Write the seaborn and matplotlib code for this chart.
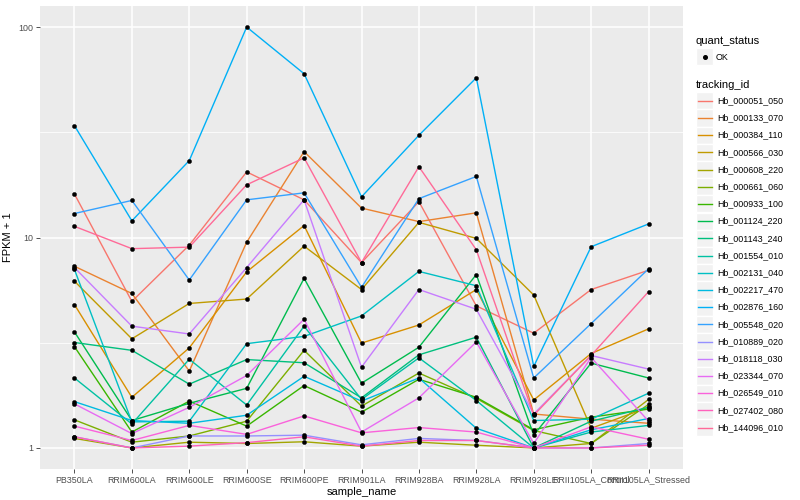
import math
import numpy as np
import pandas as pd
import matplotlib
matplotlib.use("Agg")
import matplotlib.pyplot as plt
from matplotlib.lines import Line2D
from matplotlib.patches import Rectangle
import seaborn as sns

samples = ["PB350LA", "RRIM600LA", "RRIM600LE", "RRIM600SE", "RRIM600PE", "RRIM901LA",
           "RRIM928BA", "RRIM928LA", "RRIM928LE", "RRII105LA_Control", "RRII105LA_Stressed"]

tracking_ids = ["Hb_000051_050", "Hb_000133_070", "Hb_000384_110", "Hb_000566_030",
                "Hb_000608_220", "Hb_000661_060", "Hb_000933_100", "Hb_001124_220",
                "Hb_001143_240", "Hb_001554_010", "Hb_002131_040", "Hb_002217_470",
                "Hb_002876_160", "Hb_005548_020", "Hb_010889_020", "Hb_018118_030",
                "Hb_023344_070", "Hb_026549_010", "Hb_027402_080", "Hb_144096_010"]

# FPKM + 1 values per gene, in sample order
hb_000051_050 = [16.1, 4.97, 9.2, 20.5, 15.1, 7.6, 14.8, 4.73, 3.51, 5.66, 6.99]
hb_000133_070 = [7.3, 5.42, 2.32, 9.5, 25.6, 13.8, 11.9, 13.1, 1.45, 1.37, 1.31]
hb_000384_110 = [4.8, 1.74, 2.99, 6.87, 11.4, 3.15, 3.84, 5.66, 1.69, 2.81, 3.68]
hb_000566_030 = [6.2, 3.3, 4.86, 5.1, 9.1, 5.66, 11.8, 9.9, 5.33, 1.24, 1.56]
hb_000608_220 = [1.11, 1.0, 1.065, 1.05, 1.07, 1.02, 1.065, 1.03, 1.0, 1.05, 1.70]
hb_000661_060 = [1.36, 1.065, 1.14, 1.34, 2.91, 1.58, 2.27, 1.72, 1.21, 1.05, 1.61]
hb_000933_100 = [3.03, 1.19, 1.67, 1.27, 1.98, 1.48, 2.12, 1.74, 1.22, 1.40, 1.53]
hb_001124_220 = [3.56, 1.35, 1.63, 1.92, 6.4, 2.03, 3.01, 6.67, 1.15, 2.53, 2.15]
hb_001143_240 = [3.17, 2.91, 2.01, 2.63, 2.54, 1.73, 2.77, 3.36, 1.0, 1.34, 1.56]
hb_001554_010 = [2.15, 1.30, 2.64, 1.6, 3.79, 1.70, 2.68, 1.68, 1.0, 1.19, 1.28]
hb_002131_040 = [7.05, 1.33, 1.34, 3.13, 3.39, 4.24, 6.9, 5.9, 1.35, 1.37, 1.82]
hb_002217_470 = [1.66, 1.35, 1.31, 1.43, 2.19, 1.67, 2.15, 1.24, 1.0, 1.22, 1.38]
hb_002876_160 = [34.0, 12.0, 23.2, 100.0, 60.0, 15.6, 30.6, 57.4, 2.44, 9.04, 11.6]
hb_005548_020 = [13.0, 15.0, 6.28, 15.1, 16.3, 5.8, 15.3, 19.5, 2.15, 3.9, 7.1]
hb_010889_020 = [1.13, 1.0, 1.14, 1.14, 1.15, 1.035, 1.11, 1.085, 1.0, 1.0, 1.05]
hb_018118_030 = [7.2, 3.79, 3.48, 7.2, 15.1, 2.42, 5.66, 4.56, 1.45, 2.75, 2.37]
hb_023344_070 = [1.62, 1.17, 1.56, 2.21, 4.09, 1.19, 1.73, 3.19, 1.05, 2.69, 1.34]
hb_026549_010 = [1.27, 1.085, 1.28, 1.16, 1.42, 1.18, 1.25, 1.19, 1.0, 1.26, 1.10]
hb_027402_080 = [1.13, 1.0, 1.02, 1.06, 1.13, 1.02, 1.085, 1.085, 1.0, 1.0, 1.03]
hb_144096_010 = [11.3, 8.85, 9.0, 17.8, 23.9, 7.6, 21.7, 8.74, 1.43, 2.75, 5.53]

series = [hb_000051_050, hb_000133_070, hb_000384_110, hb_000566_030, hb_000608_220,
          hb_000661_060, hb_000933_100, hb_001124_220, hb_001143_240, hb_001554_010,
          hb_002131_040, hb_002217_470, hb_002876_160, hb_005548_020, hb_010889_020,
          hb_018118_030, hb_023344_070, hb_026549_010, hb_027402_080, hb_144096_010]

rows = []
for tid, vals in zip(tracking_ids, series):
    for s, v in zip(samples, vals):
        rows.append({"tracking_id": tid, "sample_name": s, "fpkm": v, "quant_status": "OK"})
df = pd.DataFrame(rows)


def hcl_hex(h, c=100.0, l=65.0):
    hr = math.radians(h)
    u, v = c * math.cos(hr), c * math.sin(hr)
    Xn, Yn, Zn = 95.047, 100.0, 108.883
    den = Xn + 15 * Yn + 3 * Zn
    un, vn = 4 * Xn / den, 9 * Yn / den
    Y = Yn * ((l + 16) / 116) ** 3
    up, vp = u / (13 * l) + un, v / (13 * l) + vn
    X = Y * 9 * up / (4 * vp)
    Z = Y * (12 - 3 * up - 20 * vp) / (4 * vp)
    X, Y, Z = X / 100, Y / 100, Z / 100
    rgb = [3.2406 * X - 1.5372 * Y - 0.4986 * Z,
           -0.9689 * X + 1.8758 * Y + 0.0415 * Z,
           0.0557 * X - 0.2040 * Y + 1.0570 * Z]
    out = []
    for ch in rgb:
        ch = 12.92 * ch if ch <= 0.0031308 else 1.055 * ch ** (1 / 2.4) - 0.055
        out.append(min(1, max(0, ch)))
    return tuple(out)


n = len(tracking_ids)
hues = np.linspace(15, 375, n + 1)[:n]
palette = {tid: hcl_hex(h) for tid, h in zip(tracking_ids, hues)}

plt.rcParams["font.family"] = ["Liberation Sans", "DejaVu Sans"]

fig = plt.figure(figsize=(8, 5), dpi=100)
fig.patch.set_facecolor("white")
ax = fig.add_axes([40 / 800, 1 - 469 / 500, 643 / 800, 463 / 500])
ax.set_facecolor("#EBEBEB")

sns.lineplot(data=df, x="sample_name", y="fpkm", hue="tracking_id", hue_order=tracking_ids,
             palette=palette, sort=False, estimator=None, linewidth=1.0, legend=False, ax=ax,
             zorder=3)
sns.scatterplot(data=df, x="sample_name", y="fpkm", color="black", s=9, marker="o",
                edgecolor="black", linewidth=0.3, legend=False, ax=ax, zorder=4)

ax.set_yscale("log")
ax.set_ylim(10 ** -0.1, 10 ** 2.1)
ax.set_xlim(-0.6, len(samples) - 0.4)
ax.set_yticks([1, 10, 100])
ax.set_yticklabels(["1", "10", "100"])
ax.yaxis.set_minor_locator(matplotlib.ticker.FixedLocator([10 ** 0.5, 10 ** 1.5]))
ax.yaxis.set_minor_formatter(matplotlib.ticker.NullFormatter())
ax.grid(True, which="major", color="white", linewidth=1.1, zorder=0)
ax.grid(True, which="minor", axis="y", color="white", linewidth=0.55, zorder=0)
ax.set_axisbelow(True)
for sp in ax.spines.values():
    sp.set_visible(False)
ax.tick_params(axis="both", which="major", length=2.8, width=0.6, color="#333333",
               labelsize=6.4, labelcolor="#4D4D4D", pad=2)
ax.tick_params(axis="y", which="minor", length=0)
ax.set_xlabel("sample_name", fontsize=8, color="black", labelpad=2)
ax.set_ylabel("FPKM + 1", fontsize=8, color="black", labelpad=4)

# Legend (ggplot style)
def fx(px):
    return px / 800


def fy(py):
    return 1 - py / 500


fig.text(fx(696), fy(41), "quant_status", fontsize=8, va="center", ha="left")
fig.add_artist(Rectangle((fx(696), fy(65)), 17 / 800, 17 / 500, transform=fig.transFigure,
                         facecolor="#F2F2F2", edgecolor="white", linewidth=1))
fig.add_artist(Line2D([fx(704.5)], [fy(56.5)], marker="o", markersize=2.6, color="black",
                      linestyle="none", transform=fig.transFigure))
fig.text(fx(716), fy(57), "OK", fontsize=6.4, va="center", ha="left")

fig.text(fx(696), fy(85), "tracking_id", fontsize=8, va="center", ha="left")
y0 = 100.7
step = 17.2
for i, tid in enumerate(tracking_ids):
    yc = y0 + i * step
    fig.add_artist(Rectangle((fx(696), fy(yc + 8.6)), 17 / 800, 17.2 / 500,
                             transform=fig.transFigure, facecolor="#F2F2F2",
                             edgecolor="white", linewidth=1))
    fig.add_artist(Line2D([fx(698), fx(712)], [fy(yc), fy(yc)], color=palette[tid],
                          linewidth=1.0, transform=fig.transFigure))
    fig.text(fx(717), fy(yc), tid, fontsize=6.4, va="center", ha="left")

fig.savefig("out.png", dpi=100)
